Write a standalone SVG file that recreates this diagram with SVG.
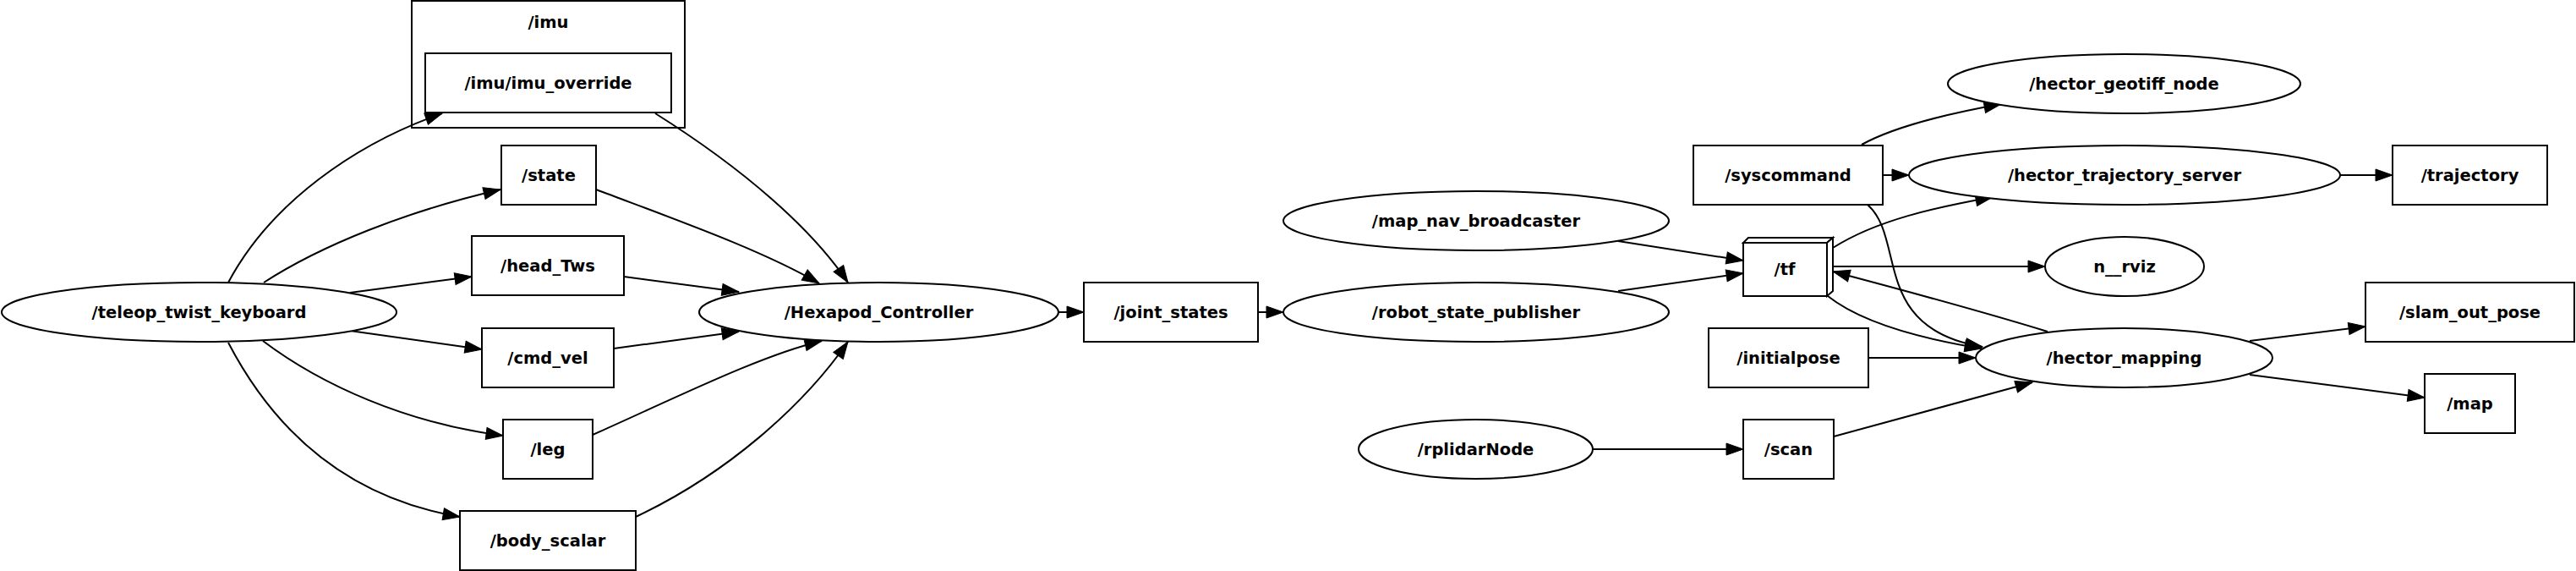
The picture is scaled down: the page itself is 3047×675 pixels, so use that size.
<svg xmlns="http://www.w3.org/2000/svg" width="3047" height="675" viewBox="0 0 3047 675">
<style>
.n{fill:#fff;stroke:#000;stroke-width:2}
.t{font-family:"DejaVu Sans",sans-serif;font-weight:bold;font-size:19.5px;text-anchor:middle;fill:#000}
.e{fill:none;stroke:#000;stroke-width:2;marker-end:url(#ah)}
</style>
<defs>
<marker id="ah" markerUnits="userSpaceOnUse" markerWidth="22" markerHeight="16" refX="20" refY="7" orient="auto" overflow="visible">
<path d="M0,0 L20,7 L0,14 z" fill="#000" stroke="#000" stroke-width="1"/>
</marker>
</defs>
<rect width="3047" height="675" fill="#fff"/>
<g id="cluster_imu">
<rect class="n" x="487" y="1" width="323" height="150"/>
<text class="t" x="648.5" y="33">/imu</text>
</g>
<g id="connectors">
<path class="e" d="M270,334 C320,240 420,170 523,134"/>
<path class="e" d="M312,334 C380,290 480,250 592,224"/>
<path class="e" d="M414,346 L558,327"/>
<path class="e" d="M414,391 L570,413"/>
<path class="e" d="M311,403 C380,455 480,500 595,515"/>
<path class="e" d="M270,405 C330,520 420,590 544,611"/>
<path class="e" d="M775,134 C880,200 960,270 1003,334"/>
<path class="e" d="M705,224 C800,260 900,295 969,335"/>
<path class="e" d="M738,327 L874,345"/>
<path class="e" d="M726,412 L874,392"/>
<path class="e" d="M701,514 C800,470 900,420 972,403"/>
<path class="e" d="M752,611 C860,560 950,480 1003,404"/>
<path class="e" d="M1252,369 L1282,369"/>
<path class="e" d="M1488,369 L1518,369"/>
<path class="e" d="M1914,285 L2062,308"/>
<path class="e" d="M1914,344 L2062,323"/>
<path class="e" d="M1884,531 L2062,531"/>
<path class="e" d="M2169,516 L2404,452"/>
<path class="e" d="M2210,423 L2337,423"/>
<path class="e" d="M2162,350 C2200,380 2270,400 2344,412"/>
<path class="e" d="M2209,242 C2255,282 2212,388 2345,410"/>
<path class="e" d="M2202,171 C2240,150 2300,135 2367,123"/>
<path class="e" d="M2227,207 L2258,207"/>
<path class="e" d="M2168,293 C2220,260 2290,245 2357,233"/>
<path class="e" d="M2768,207 L2830,207"/>
<path class="e" d="M2168,315 L2419,315"/>
<path class="e" d="M2422,392 C2350,370 2240,340 2168,321"/>
<path class="e" d="M2661,403 L2798,386"/>
<path class="e" d="M2661,443 L2868,470"/>
</g>
<g id="teleop_twist_keyboard"><ellipse class="n" cx="235.5" cy="369" rx="233.5" ry="35"/><text class="t" x="235.5" y="376">/teleop_twist_keyboard</text></g>
<g id="imu_override"><rect class="n" x="503" y="63" width="291" height="70"/><text class="t" x="648.5" y="105">/imu/imu_override</text></g>
<g id="state"><rect class="n" x="593" y="172" width="112" height="70"/><text class="t" x="649" y="214">/state</text></g>
<g id="head_Tws"><rect class="n" x="558" y="279" width="180" height="70"/><text class="t" x="648" y="321">/head_Tws</text></g>
<g id="cmd_vel"><rect class="n" x="570" y="388" width="156" height="70"/><text class="t" x="648" y="430">/cmd_vel</text></g>
<g id="leg"><rect class="n" x="595" y="496" width="106" height="70"/><text class="t" x="648" y="538">/leg</text></g>
<g id="body_scalar"><rect class="n" x="544" y="604" width="208" height="70"/><text class="t" x="648" y="646">/body_scalar</text></g>
<g id="Hexapod_Controller"><ellipse class="n" cx="1039.5" cy="369" rx="212.5" ry="35"/><text class="t" x="1039.5" y="376">/Hexapod_Controller</text></g>
<g id="joint_states"><rect class="n" x="1282" y="334" width="206" height="70"/><text class="t" x="1385" y="376">/joint_states</text></g>
<g id="robot_state_publisher"><ellipse class="n" cx="1746" cy="369" rx="228" ry="35"/><text class="t" x="1746" y="376">/robot_state_publisher</text></g>
<g id="map_nav_broadcaster"><ellipse class="n" cx="1746" cy="261" rx="228" ry="35"/><text class="t" x="1746" y="268">/map_nav_broadcaster</text></g>
<g id="rplidarNode"><ellipse class="n" cx="1745.5" cy="531" rx="138.5" ry="35"/><text class="t" x="1745.5" y="538">/rplidarNode</text></g>
<g id="syscommand"><rect class="n" x="2003" y="172" width="224" height="70"/><text class="t" x="2115" y="214">/syscommand</text></g>
<g id="tf">
<polygon class="n" points="2062,287 2068,281 2168,281 2161,287"/>
<polygon class="n" points="2161,287 2168,281 2168,344 2161,350"/>
<rect class="n" x="2062" y="287" width="99" height="63"/>
<text class="t" x="2111" y="325">/tf</text>
</g>
<g id="initialpose"><rect class="n" x="2021" y="388" width="189" height="70"/><text class="t" x="2115.5" y="430">/initialpose</text></g>
<g id="scan"><rect class="n" x="2062" y="496" width="107" height="70"/><text class="t" x="2115.5" y="538">/scan</text></g>
<g id="hector_geotiff_node"><ellipse class="n" cx="2512.5" cy="99" rx="208.5" ry="35"/><text class="t" x="2512.5" y="106">/hector_geotiff_node</text></g>
<g id="hector_trajectory_server"><ellipse class="n" cx="2513" cy="207" rx="255" ry="35"/><text class="t" x="2513" y="214">/hector_trajectory_server</text></g>
<g id="n__rviz"><ellipse class="n" cx="2513" cy="315" rx="94" ry="35"/><text class="t" x="2513" y="322">n__rviz</text></g>
<g id="hector_mapping"><ellipse class="n" cx="2512.5" cy="423" rx="175.5" ry="35"/><text class="t" x="2512.5" y="430">/hector_mapping</text></g>
<g id="trajectory"><rect class="n" x="2830" y="172" width="183" height="70"/><text class="t" x="2921.5" y="214">/trajectory</text></g>
<g id="slam_out_pose"><rect class="n" x="2798" y="334" width="247" height="70"/><text class="t" x="2921.5" y="376">/slam_out_pose</text></g>
<g id="map"><rect class="n" x="2868" y="442" width="107" height="70"/><text class="t" x="2921.5" y="484">/map</text></g>
</svg>
